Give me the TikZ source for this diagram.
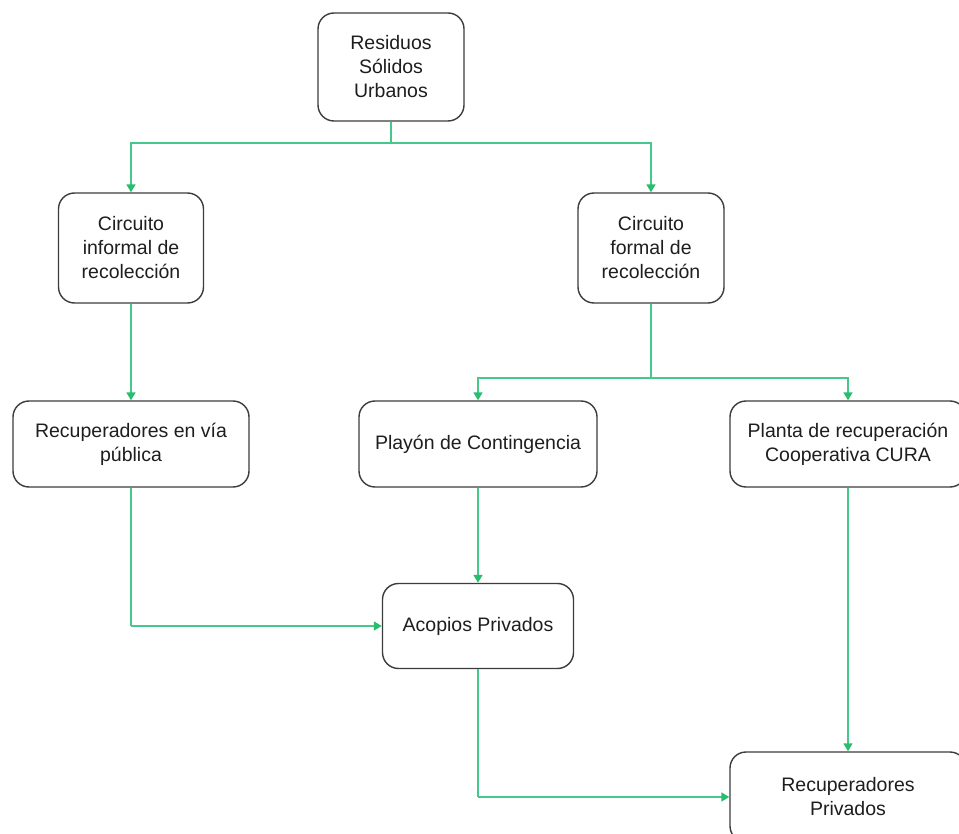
\documentclass[tikz,border=0pt]{standalone}
\usepackage{fontspec}
\setmainfont{Liberation Sans}
\usetikzlibrary{arrows.meta}
\definecolor{linegreen}{RGB}{70,200,140}
\definecolor{tipgreen}{RGB}{40,190,110}
\definecolor{boxgray}{RGB}{60,60,60}
\definecolor{txt}{RGB}{30,30,30}
\tikzset{
  box/.style={draw=boxgray, line width=1.4pt, rounded corners=16pt, fill=white,
    align=center, text=txt, inner sep=0pt,
    font=\fontsize{19.5}{24}\selectfont},
  conn/.style={draw=linegreen, line width=1.6pt},
  arr/.style={conn, -{Triangle[width=9pt,length=8pt,color=tipgreen]}},
}
\begin{document}
\begin{tikzpicture}[x=1pt,y=-1pt]
\useasboundingbox (0,0) rectangle (959,834);
\fill[white] (0,0) rectangle (959,834);

\node[box, minimum width=146pt, minimum height=108pt] (res) at (391,67) {Residuos\\Sólidos\\Urbanos};
\node[box, minimum width=145pt, minimum height=110pt] (inf) at (131,248) {Circuito\\informal de\\recolección};
\node[box, minimum width=146pt, minimum height=110pt] (form) at (651,248) {Circuito\\formal de\\recolección};
\node[box, minimum width=236pt, minimum height=86pt] (vp) at (131,444) {Recuperadores en vía\\pública};
\node[box, minimum width=238pt, minimum height=86pt] (play) at (478,444) {Playón de Contingencia};
\node[box, minimum width=236pt, minimum height=86pt] (planta) at (848,444) {Planta de recuperación\\Cooperativa CURA};
\node[box, minimum width=191pt, minimum height=85pt] (acop) at (478,626) {Acopios Privados};
\node[box, minimum width=236pt, minimum height=90pt] (rp) at (848,797) {Recuperadores\\Privados};

\coordinate (j1) at (391,143);
\coordinate (j2) at (651,378);
\coordinate (j3) at (131,626);
\coordinate (j4) at (478,797);

\draw[conn] (res.south) -- (j1);
\draw[arr] (j1) -| (inf.north);
\draw[arr] (j1) -| (form.north);
\draw[arr] (inf.south) -- (vp.north);
\draw[conn] (form.south) -- (j2);
\draw[arr] (j2) -| (play.north);
\draw[arr] (j2) -| (planta.north);
\draw[conn] (vp.south) -- (j3);
\draw[arr] (j3) -- (acop.west);
\draw[arr] (play.south) -- (acop.north);
\draw[arr] (planta.south) -- (rp.north);
\draw[conn] (acop.south) -- (j4);
\draw[arr] (j4) -- (rp.west);
\end{tikzpicture}
\end{document}
